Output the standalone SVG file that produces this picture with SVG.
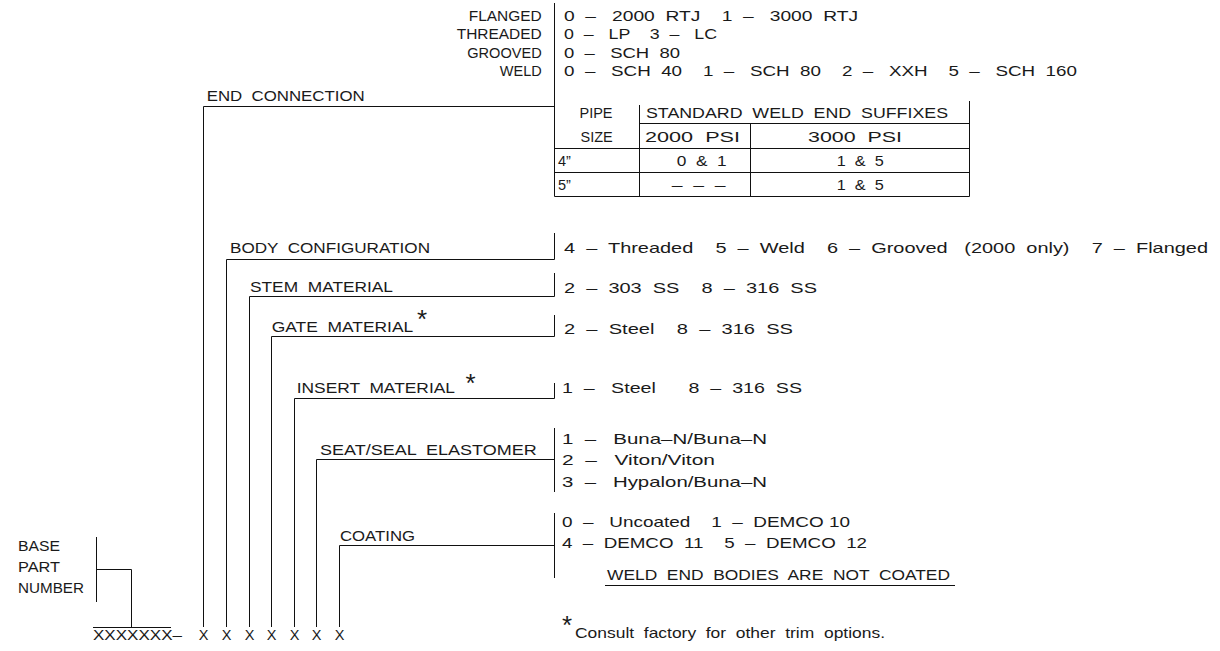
<svg xmlns="http://www.w3.org/2000/svg" width="1220" height="651" viewBox="0 0 1220 651">
<style>
.t{font-family:"Liberation Sans",Arial,sans-serif;font-size:14.5px;fill:#1a1a1a;white-space:pre}
.e{text-anchor:end}
.m{text-anchor:middle}
.ast{font-family:"Liberation Sans",Arial,sans-serif;font-size:26px;fill:#1a1a1a}
.ln{stroke:#111;stroke-width:1;fill:none}
</style>
<rect width="1220" height="651" fill="#fff"/>
<g id="end-connection">
<text class="t" x="206.7" y="101" textLength="158" lengthAdjust="spacingAndGlyphs">END  CONNECTION</text>
<path class="ln" d="M554.5 3V196.5"/>
<text class="t e" x="541.7" y="20.5" textLength="73" lengthAdjust="spacingAndGlyphs">FLANGED</text>
<text class="t e" x="541.7" y="39" textLength="85" lengthAdjust="spacingAndGlyphs">THREADED</text>
<text class="t e" x="541.7" y="57.5" textLength="74.5" lengthAdjust="spacingAndGlyphs">GROOVED</text>
<text class="t e" x="541.7" y="76">WELD</text>
<text class="t" x="564" y="20.5" textLength="294" lengthAdjust="spacingAndGlyphs">0  –   2000  RTJ    1  –   3000  RTJ</text>
<text class="t" x="564" y="39" textLength="153" lengthAdjust="spacingAndGlyphs">0  –   LP    3  –   LC</text>
<text class="t" x="564" y="57.5" textLength="116" lengthAdjust="spacingAndGlyphs">0  –   SCH  80</text>
<text class="t" x="564" y="76" textLength="513" lengthAdjust="spacingAndGlyphs">0  –   SCH  40    1  –   SCH  80    2  –   XXH    5  –   SCH  160</text>
</g>
<g id="weld-table">
<path class="ln" d="M969.5 101V196.5M639.5 105V196.5M750.5 123.5V196.5M639.5 123.5H969.5M554.5 148.5H969.5M554.5 172.5H969.5M554.5 196.5H969.5"/>
<text class="t" x="579.5" y="118">PIPE</text>
<text class="t" x="646" y="118" textLength="302" lengthAdjust="spacingAndGlyphs">STANDARD  WELD  END  SUFFIXES</text>
<text class="t" x="580.5" y="142">SIZE</text>
<text class="t" x="645" y="142" textLength="95" lengthAdjust="spacingAndGlyphs">2000  PSI</text>
<text class="t" x="808" y="142" textLength="94" lengthAdjust="spacingAndGlyphs">3000  PSI</text>
<text class="t" x="558" y="166">4”</text>
<text class="t" x="676.7" y="166" textLength="50" lengthAdjust="spacingAndGlyphs">0  &amp;  1</text>
<text class="t" x="836.7" y="166" textLength="47" lengthAdjust="spacingAndGlyphs">1  &amp;  5</text>
<text class="t" x="558" y="190">5”</text>
<text class="t" x="671.7" y="190" textLength="54" lengthAdjust="spacingAndGlyphs">–  –  –</text>
<text class="t" x="836.7" y="190" textLength="47" lengthAdjust="spacingAndGlyphs">1  &amp;  5</text>
</g>
<g id="body-configuration">
<text class="t" x="230" y="253" textLength="200" lengthAdjust="spacingAndGlyphs">BODY  CONFIGURATION</text>
<path class="ln" d="M554.5 233V259.5"/>
<text class="t" x="564" y="252.5" textLength="644" lengthAdjust="spacingAndGlyphs">4  –  Threaded    5  –  Weld    6  –  Grooved   (2000  only)    7  –  Flanged</text>
</g>
<g id="stem-material">
<text class="t" x="250" y="292" textLength="143" lengthAdjust="spacingAndGlyphs">STEM  MATERIAL</text>
<path class="ln" d="M554.5 273V296.5"/>
<text class="t" x="564" y="293" textLength="253" lengthAdjust="spacingAndGlyphs">2  –  303  SS    8  –  316  SS</text>
</g>
<g id="gate-material">
<text class="t" x="271.7" y="332" textLength="141.5" lengthAdjust="spacingAndGlyphs">GATE  MATERIAL</text>
<text class="ast" x="417" y="328">*</text>
<path class="ln" d="M554.5 315V336.5"/>
<text class="t" x="564" y="334" textLength="229" lengthAdjust="spacingAndGlyphs">2  –  Steel    8  –  316  SS</text>
</g>
<g id="insert-material">
<text class="t" x="296.7" y="393" textLength="158.3" lengthAdjust="spacingAndGlyphs">INSERT  MATERIAL</text>
<text class="ast" x="465.5" y="392">*</text>
<path class="ln" d="M554.5 383V398.5"/>
<text class="t" x="562" y="393" textLength="240" lengthAdjust="spacingAndGlyphs">1  –   Steel      8  –  316  SS</text>
</g>
<g id="seat-seal-elastomer">
<text class="t" x="320" y="455" textLength="216.7" lengthAdjust="spacingAndGlyphs">SEAT/SEAL  ELASTOMER</text>
<path class="ln" d="M554.5 428V492"/>
<text class="t" x="562" y="443.5" textLength="205" lengthAdjust="spacingAndGlyphs">1  –   Buna–N/Buna–N</text>
<text class="t" x="562" y="465" textLength="153" lengthAdjust="spacingAndGlyphs">2  –   Viton/Viton</text>
<text class="t" x="562" y="486.5" textLength="205" lengthAdjust="spacingAndGlyphs">3  –   Hypalon/Buna–N</text>
</g>
<g id="coating">
<text class="t" x="340" y="540.7" textLength="75" lengthAdjust="spacingAndGlyphs">COATING</text>
<path class="ln" d="M554.5 513V578"/>
<text class="t" x="562" y="527" textLength="288" lengthAdjust="spacingAndGlyphs">0  –   Uncoated    1  –  DEMCO 10</text>
<text class="t" x="562" y="548" textLength="305" lengthAdjust="spacingAndGlyphs">4  –  DEMCO  11    5  –  DEMCO  12</text>
<text class="t" x="607" y="580" textLength="343" lengthAdjust="spacingAndGlyphs">WELD  END  BODIES  ARE  NOT  COATED</text>
<path class="ln" d="M605 585.5H955"/>
</g>
<g id="base-part-number">
<text class="t" x="18" y="551" textLength="42" lengthAdjust="spacingAndGlyphs">BASE</text>
<text class="t" x="18" y="572" textLength="42" lengthAdjust="spacingAndGlyphs">PART</text>
<text class="t" x="18" y="593" textLength="66" lengthAdjust="spacingAndGlyphs">NUMBER</text>
<path class="ln" d="M96.5 537V602"/>
</g>
<g id="part-number">
<text class="t" x="93" y="639.5" textLength="89" lengthAdjust="spacingAndGlyphs">XXXXXXX–</text>
<text class="t m" x="203.5" y="639.5">X</text>
<text class="t m" x="226.5" y="639.5">X</text>
<text class="t m" x="249.5" y="639.5">X</text>
<text class="t m" x="271.5" y="639.5">X</text>
<text class="t m" x="294.5" y="639.5">X</text>
<text class="t m" x="316.5" y="639.5">X</text>
<text class="t m" x="339.5" y="639.5">X</text>
</g>
<g id="footnote">
<text class="ast" x="562" y="634">*</text>
<text class="t" x="575" y="638" textLength="310" lengthAdjust="spacingAndGlyphs">Consult  factory  for  other  trim  options.</text>
</g>
<g id="connectors">
<path class="ln" d="M554.5 106.5H203.5V627"/>
<path class="ln" d="M554.5 259.5H226.5V627"/>
<path class="ln" d="M554.5 296.5H249.5V627"/>
<path class="ln" d="M554.5 336.5H271.5V627"/>
<path class="ln" d="M554.5 398.5H294.5V627"/>
<path class="ln" d="M554.5 459.5H316.5V627"/>
<path class="ln" d="M554.5 545.5H339.5V627"/>
<path class="ln" d="M96.5 569.5H131.5V627"/>
<path class="ln" d="M93 627.5H171"/>
</g>
</svg>
